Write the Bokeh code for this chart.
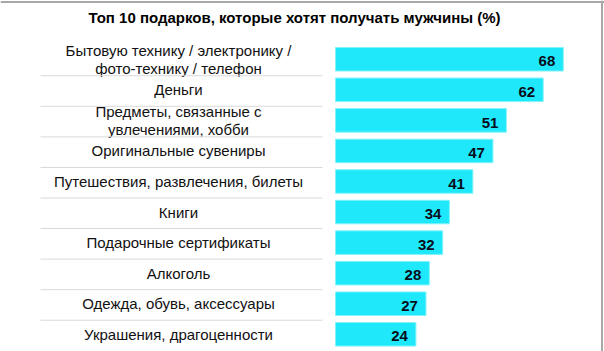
from bokeh.plotting import figure
from bokeh.models import Range1d, Span
from bokeh.core.properties import value
from bokeh.embed import file_html
from bokeh.resources import INLINE

title_text = "Топ 10 подарков, которые хотят получать мужчины (%)"
categories = [
    "Бытовую технику / электронику /\nфото-технику / телефон",
    "Деньги",
    "Предметы, связанные с\nувлечениями, хобби",
    "Оригинальные сувениры",
    "Путешествия, развлечения, билеты",
    "Книги",
    "Подарочные сертификаты",
    "Алкоголь",
    "Одежда, обувь, аксессуары",
    "Украшения, драгоценности",
]
values = [68, 62, 51, 47, 41, 34, 32, 28, 27, 24]

W, H = 604, 351
PX_PER_UNIT = 3.35
BAR_X0_PX = 335
ROW0_PX = 58.75
ROW_PX = 30.56

def xd(px):
    return (px - BAR_X0_PX) / PX_PER_UNIT

def yd(px):
    return (px - ROW0_PX) / ROW_PX

idx = list(range(len(categories)))

p = figure(width=W, height=H, output_backend="svg", toolbar_location=None,
           x_range=Range1d(xd(0), xd(W)), y_range=Range1d(yd(H), yd(0)),
           min_border=0, border_fill_color="white", background_fill_color="white",
           outline_line_color=None)
p.xaxis.visible = False
p.yaxis.visible = False
p.grid.visible = False

# bars
p.hbar(y=idx, left=0, right=values, height=0.77, fill_color="#1ee8f9",
       line_color="#80f3fb", line_width=1)

# value labels
p.text(x=[v - 2.4 for v in values], y=[i + 0.07 for i in idx], text=[str(v) for v in values],
       text_align="right", text_baseline="middle", text_font=value("Liberation Sans"),
       text_font_style="bold", text_font_size="15px", text_color="#080c1a")

# category labels
p.text(x=[xd(178)] * len(idx), y=idx, text=categories, text_align="center",
       text_baseline="middle", text_font=value("Liberation Sans"), text_font_size="15px",
       text_color="#111111", text_line_height=1.05)

# separators
seps = [i - 0.46 for i in idx[1:]]
p.segment(x0=[xd(40)] * len(seps), x1=[xd(322)] * len(seps), y0=seps, y1=seps,
          line_color="#d9d9d9", line_width=1)

# title
p.text(x=[xd(294)], y=[yd(17)], text=[title_text], text_align="center",
       text_baseline="middle", text_font=value("Liberation Sans"), text_font_style="bold",
       text_font_size="15px", text_color="#000000")

# frame lines (top and right)
p.add_layout(Span(location=yd(1.5), dimension="width", line_color="#a8a8a8", line_width=2))
p.add_layout(Span(location=xd(601.5), dimension="height", line_color="#a8a8a8", line_width=2))

open("out.html", "w").write(file_html(p, INLINE))
